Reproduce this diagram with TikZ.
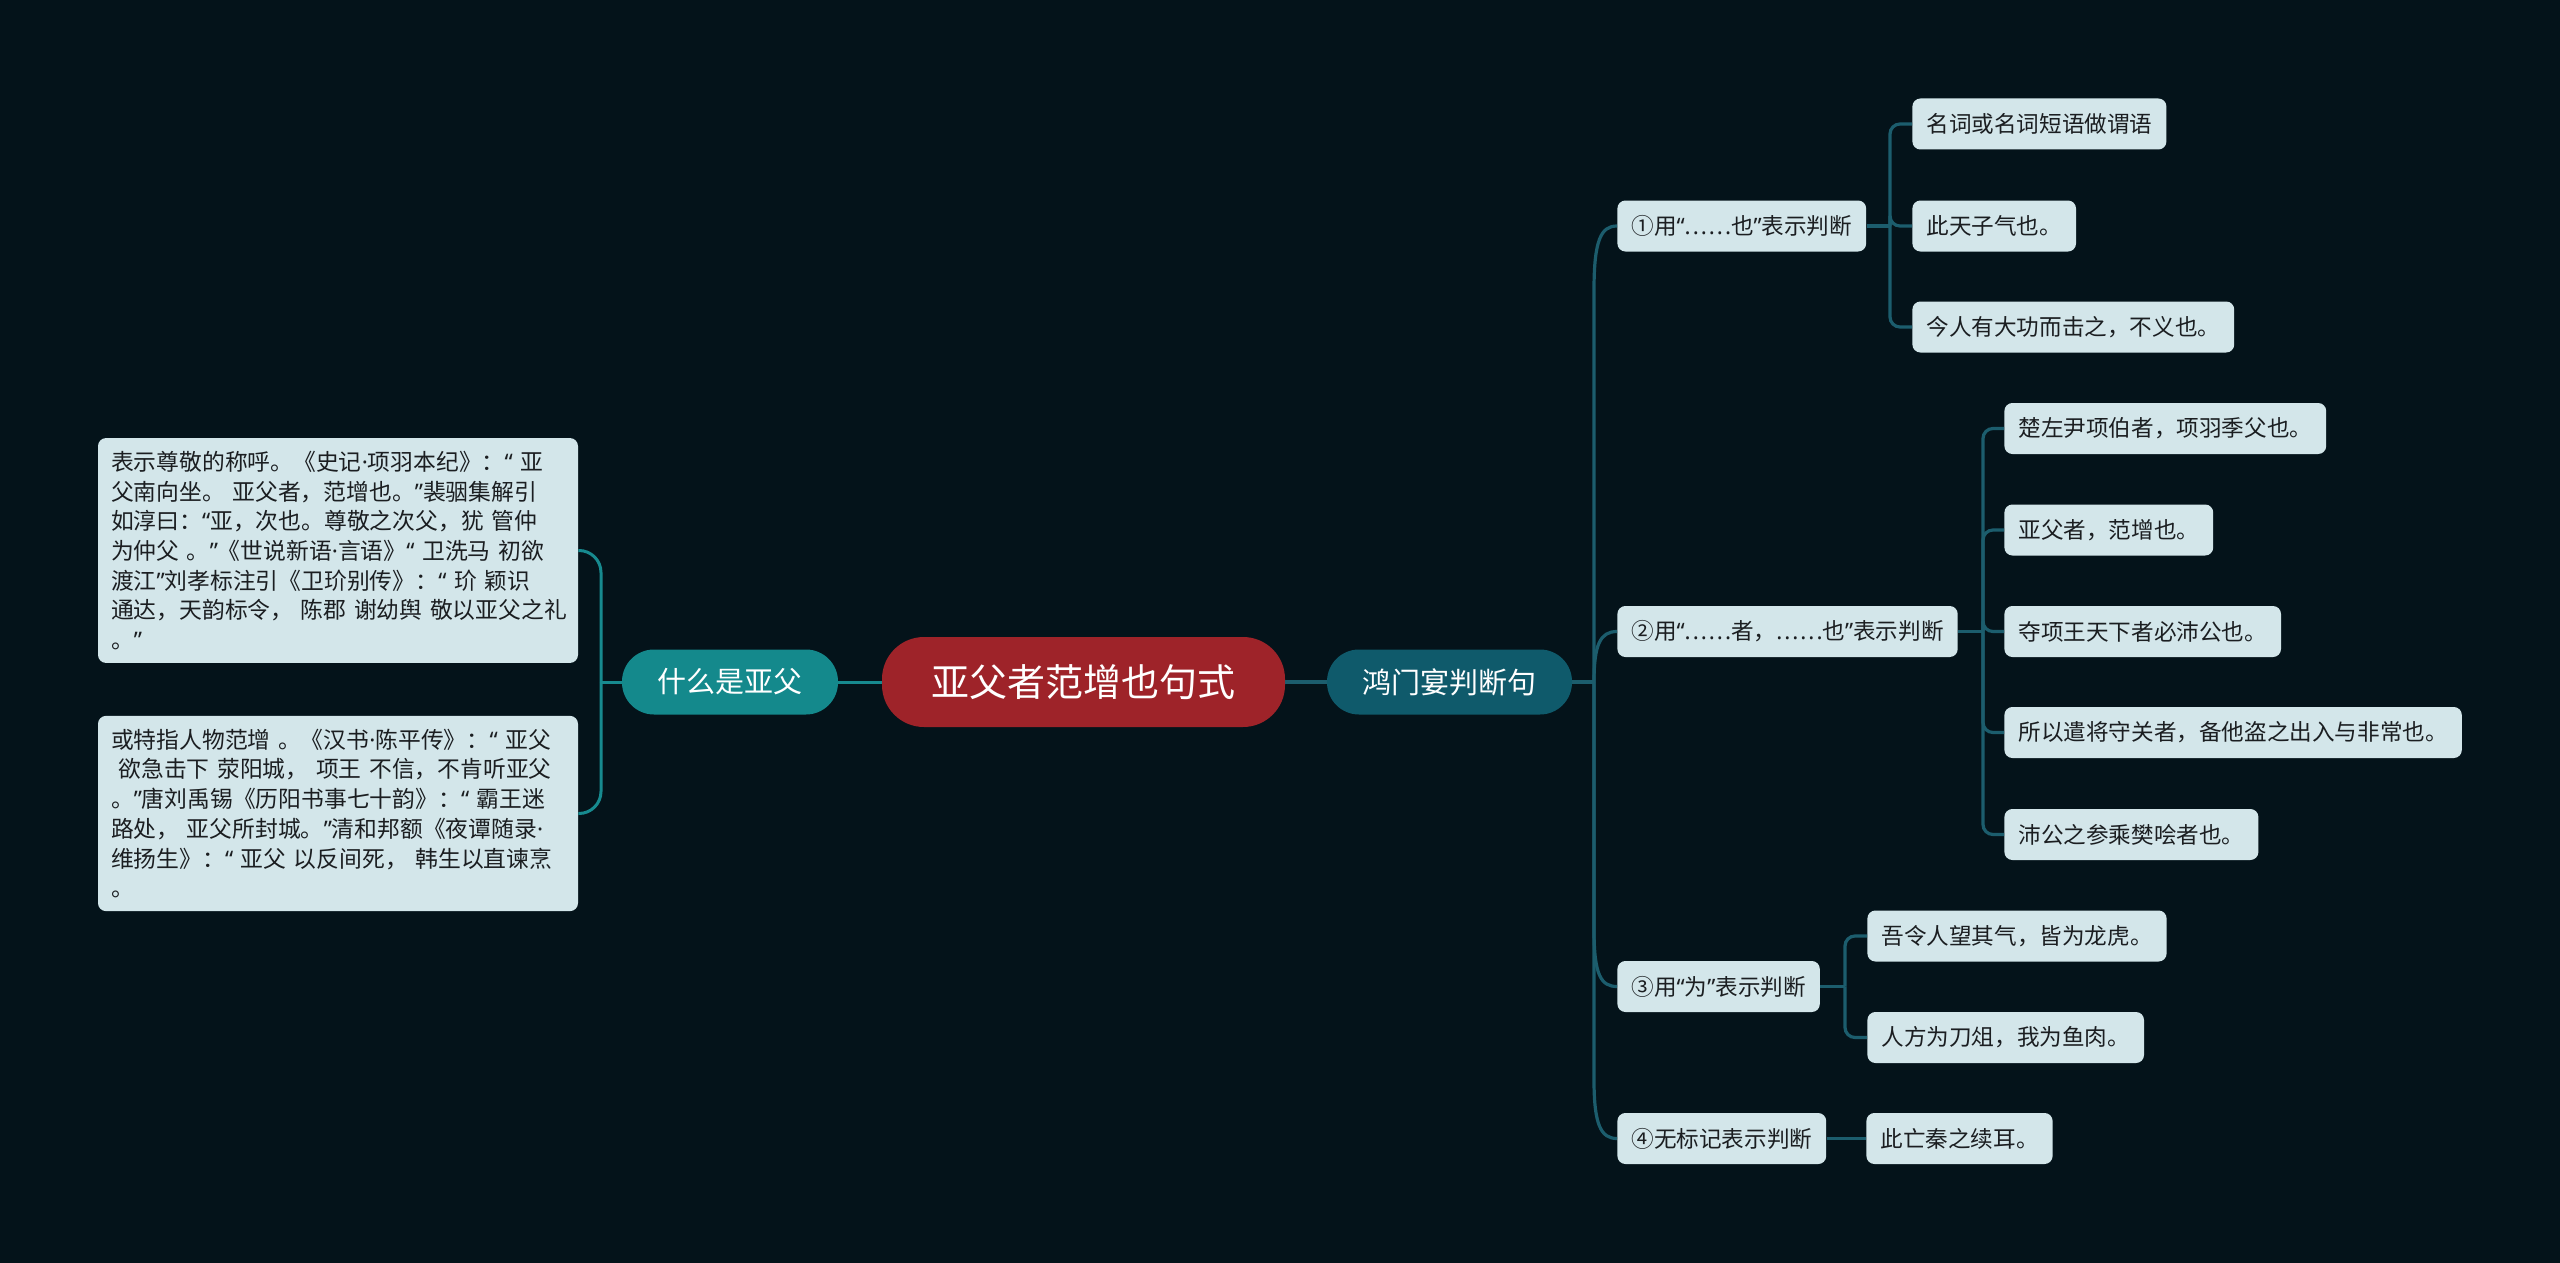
\documentclass[tikz,border=0pt]{standalone}
\usepackage{fontspec}
\setmainfont{Noto Sans CJK SC}
\newfontfamily\latinfont{Noto Sans}
\newcommand{\oq}{{\latinfont “}}
\newcommand{\cq}{{\latinfont ”}}
\newcommand{\mdot}{{\latinfont ·}}
\newcommand{\ellip}{{\latinfont .\kern1pt.\kern1pt.\kern1pt.\kern1pt.\kern1pt.}}
\definecolor{bgnavy}{HTML}{04131A}
\definecolor{rootred}{HTML}{9E2329}
\definecolor{leftteal}{HTML}{14898C}
\definecolor{rightteal}{HTML}{0F5A6B}
\definecolor{boxpale}{HTML}{D3E6EA}
\definecolor{linkleft}{HTML}{178A8F}
\definecolor{linkright}{HTML}{1C5D6D}
\definecolor{ink}{HTML}{1B1E21}
\tikzset{
  rootnode/.style={
    fill=rootred,
    text=white,
    rounded corners=21pt,
    minimum width=201.5pt,
    minimum height=45pt,
    inner sep=0pt,
    font=\fontsize{19}{23}\selectfont
  },
  mainnode/.style={
    text=white,
    rounded corners=16pt,
    minimum height=32.5pt,
    inner sep=0pt,
    font=\fontsize{14.5}{17}\selectfont
  },
  leafbox/.style={
    fill=boxpale,
    text=ink,
    rounded corners=4pt,
    minimum height=25.5pt,
    inner xsep=7pt,
    inner ysep=0pt,
    anchor=west,
    font=\fontsize{11.3}{14}\selectfont
  },
  notebox/.style={
    fill=boxpale,
    text=ink,
    rounded corners=4pt,
    align=left,
    text width=227pt,
    inner xsep=6.5pt,
    inner ysep=6.5pt,
    font=\fontsize{11.4}{14.85}\selectfont
  },
  linkl/.style={
    draw=linkleft,
    line width=1.5pt,
    rounded corners=11pt
  },
  linkr/.style={
    draw=linkright,
    line width=1.6pt,
    rounded corners=5pt
  }
}

\begin{document}
\begin{tikzpicture}[x=0.5pt,y=-0.5pt]
  \fill[bgnavy] (0,0) rectangle (2560,1263);
  \useasboundingbox (0,0) rectangle (2560,1263);

  % centre and first level
  \node[rootnode] (root) at (1083.5,682) {亚父者范增也句式};
  \node[mainnode, fill=leftteal, minimum width=108pt] (yafu) at (730,682) {什么是亚父};
  \node[mainnode, fill=rightteal, minimum width=122.5pt] (hmy) at (1449.5,682) {鸿门宴判断句};

  % left notes
  \node[notebox] (note1) at (338,550.5)
    {表示尊敬的称呼。《史记\mdot{}项羽本纪》：\oq{}~亚\\
     父南向坐。~亚父者，范增也。\cq{}裴骃集解引\\
     如淳曰：\oq{}亚，次也。尊敬之次父，犹~管仲\\
     为仲父~。\cq{}《世说新语\mdot{}言语》\oq{}~卫洗马~初欲\\
     渡江\cq{}刘孝标注引《卫玠别传》：\oq{}~玠~颖识\\
     通达，天韵标令，~陈郡~谢幼舆~敬以亚父之礼\\
     。\cq{}};
  \node[notebox] (note2) at (338,813.5)
    {或特指人物范增~。《汉书\mdot{}陈平传》：\oq{}~亚父\\
     \mbox{}~欲急击下~荥阳城，~项王~不信，不肯听亚父\\
     。\cq{}唐刘禹锡《历阳书事七十韵》：\oq{}~霸王迷\\
     路处，~亚父所封城。\cq{}清和邦额《夜谭随录\mdot\\
     维扬生》：\oq{}~亚父~以反间死，~韩生以直谏烹\\
     。};

  % right: kinds of judgement
  \node[leafbox] (kind1) at (1617,226) {①用\oq{}\ellip{}也\cq{}表示判断};
  \node[leafbox] (kind2) at (1617,631.5) {②用\oq{}\ellip{}者，\ellip{}也\cq{}表示判断};
  \node[leafbox] (kind3) at (1617,986.5) {③用\oq{}为\cq{}表示判断};
  \node[leafbox] (kind4) at (1617,1138.5) {④无标记表示判断};

  \node[leafbox] (ex11) at (1912,124) {名词或名词短语做谓语};
  \node[leafbox] (ex12) at (1912,226) {此天子气也。};
  \node[leafbox] (ex13) at (1912,327) {今人有大功而击之，不义也。};

  \node[leafbox] (ex21) at (2004,428.5) {楚左尹项伯者，项羽季父也。};
  \node[leafbox] (ex22) at (2004,530) {亚父者，范增也。};
  \node[leafbox] (ex23) at (2004,631.5) {夺项王天下者必沛公也。};
  \node[leafbox] (ex24) at (2004,732.5) {所以遣将守关者，备他盗之出入与非常也。};
  \node[leafbox] (ex25) at (2004,834.5) {沛公之参乘樊哙者也。};

  \node[leafbox] (ex31) at (1867,936) {吾令人望其气，皆为龙虎。};
  \node[leafbox] (ex32) at (1867,1037.5) {人方为刀俎，我为鱼肉。};

  \node[leafbox] (ex41) at (1866,1138.5) {此亡秦之续耳。};

  % forks
  \coordinate (lfork) at (601,682);
  \coordinate (rfork) at (1594,682);
  \coordinate (fork1) at (1890,226);
  \coordinate (fork2) at (1983,631.5);
  \coordinate (fork3) at (1845,986.5);

  % connectors
  \draw[linkl] (root.west) -- (yafu.east);
  \draw[linkl] (yafu.west) -- (lfork);
  \draw[linkl] (lfork) |- (note1.east);
  \draw[linkl] (lfork) |- (note2.east);

  \draw[linkr] (root.east) -- (hmy.west);
  \draw[linkr] (hmy.east) -- (rfork);
  \draw[linkr] (rfork) -- (1594,300) .. controls (1594,240) and (1601,226) .. (kind1.west);
  \draw[linkr] (rfork) .. controls (1594,645) and (1600,631.5) .. (kind2.west);
  \draw[linkr] (rfork) -- (1594,920) .. controls (1594,975) and (1601,986.5) .. (kind3.west);
  \draw[linkr] (rfork) -- (1594,1070) .. controls (1594,1125) and (1601,1138.5) .. (kind4.west);

  \draw[linkr] (kind1.east) -- (fork1);
  \foreach \leaf in {ex11,ex12,ex13}
    \draw[linkr] (fork1) |- (\leaf.west);
  \draw[linkr] (kind2.east) -- (fork2);
  \foreach \leaf in {ex21,ex22,ex23,ex24,ex25}
    \draw[linkr] (fork2) |- (\leaf.west);
  \draw[linkr] (kind3.east) -- (fork3);
  \foreach \leaf in {ex31,ex32}
    \draw[linkr] (fork3) |- (\leaf.west);
  \draw[linkr] (kind4.east) -- (ex41.west);
\end{tikzpicture}
\end{document}
